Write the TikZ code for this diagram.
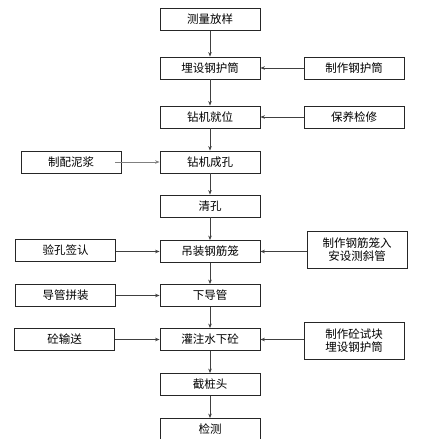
\documentclass[tikz,border=0pt]{standalone}
\usepackage{fontspec}
\setmainfont{Noto Sans CJK SC}
\usetikzlibrary{arrows.meta}
\begin{document}
\begin{tikzpicture}[x=1pt,y=-1pt,
  box/.style={draw=black!85,line width=0.8pt,minimum width=100pt,minimum height=22pt,inner sep=0pt,font=\fontsize{11.5}{13.5}\selectfont,align=center},
  flow/.style={draw=black!75,line width=0.8pt,-{Stealth[length=4.5pt,width=3.5pt]}},
  feed/.style={draw=black!50,line width=0.9pt,-{Stealth[length=4.5pt,width=3.5pt]}}]
\useasboundingbox (0,0) rectangle (427,439);
\begin{scope}
\clip (0,0) rectangle (427,439);
\node[box] (a) at (210,19.5) {测量放样};
\node[box] (b) at (210,68) {埋设钢护筒};
\node[box] (c) at (210,117) {钻机就位};
\node[box] (d) at (210,162) {钻机成孔};
\node[box] (e) at (210,206) {清孔};
\node[box] (f) at (210,251.5) {吊装钢筋笼};
\node[box] (g) at (210,295.5) {下导管};
\node[box] (h) at (210,339.5) {灌注水下砼};
\node[box] (i) at (210,384.5) {截桩头};
\node[box] (j) at (210,429.5) {检测};
\node[box] (b1) at (354,68) {制作钢护筒};
\node[box] (c1) at (354,117) {保养检修};
\node[box] (d1) at (71,162) {制配泥浆};
\node[box] (f1) at (65.5,250.5) {验孔签认};
\node[box,minimum height=37pt] (f2) at (357,249.5) {制作钢筋笼入\\安设测斜管};
\node[box] (g1) at (65.5,295.5) {导管拼装};
\node[box] (h1) at (64.5,339.5) {砼输送};
\node[box,minimum height=37pt] (h2) at (354,340.5) {制作砼试块\\埋设钢护筒};
\coordinate (d1s) at (115,162);
\end{scope}
\draw[flow] (a) -- (b);
\draw[flow] (b) -- (c);
\draw[flow] (c) -- (d);
\draw[flow] (d) -- (e);
\draw[flow] (e) -- (f);
\draw[flow] (f) -- (g);
\draw[flow] (g) -- (h);
\draw[flow] (h) -- (i);
\draw[flow] (i) -- (j);
\draw[flow] (b1) -- (b);
\draw[flow] (c1) -- (c);
\draw[flow] (f2.west |- f.east) -- (f.east);
\draw[flow] (h2.west |- h.east) -- (h.east);
\draw[feed] (d1s) -- (d.west);
\draw[flow] (f1.east |- f.west) -- (f.west);
\draw[flow] (g1) -- (g);
\draw[flow] (h1) -- (h);
\end{tikzpicture}
\end{document}
